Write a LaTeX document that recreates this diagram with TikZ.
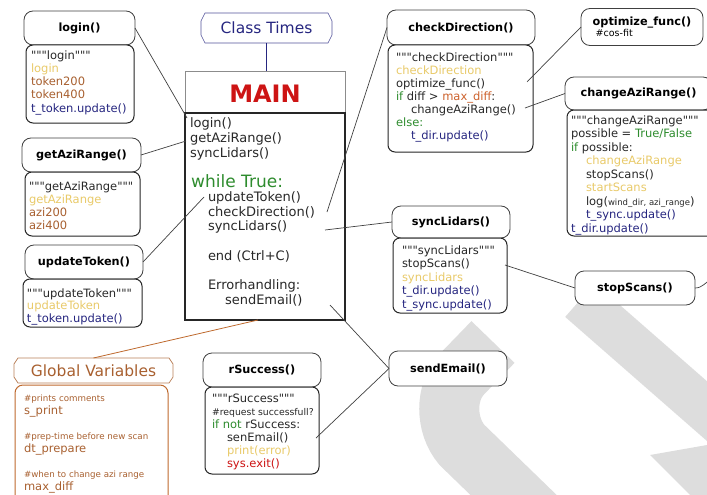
\documentclass[tikz,border=0pt]{standalone}
\usepackage{fontspec}
\setmainfont{DejaVu Sans}[Ligatures=TeXOff]
\usetikzlibrary{calc}
\definecolor{cyel}{RGB}{233,202,105}
\definecolor{cbrown}{RGB}{168,96,48}
\definecolor{cnavy}{RGB}{38,38,128}
\definecolor{cgreen}{RGB}{46,140,46}
\definecolor{corange}{RGB}{205,98,45}
\definecolor{cred}{RGB}{205,20,20}
\definecolor{ctext}{RGB}{40,40,40}
\definecolor{cwm}{RGB}{221,221,221}
\definecolor{cgvline}{RGB}{190,105,45}
\newcommand{\tyel}[1]{\textcolor{cyel}{#1}}
\newcommand{\tbrn}[1]{\textcolor{cbrown}{#1}}
\newcommand{\tnav}[1]{\textcolor{cnavy}{#1}}
\newcommand{\tgrn}[1]{\textcolor{cgreen}{#1}}
\newcommand{\tora}[1]{\textcolor{corange}{#1}}
\newcommand{\tred}[1]{\textcolor{cred}{#1}}
\newcommand{\stt}{\rule{0pt}{9pt}}
\newcommand{\ind}{\hspace*{15pt}}
\tikzset{
  hdr/.style={draw=black!75, line width=0.8pt, rounded corners=9pt, fill=white,
    inner sep=0pt, outer sep=0pt, font=\fontsize{11.3}{13}\selectfont\bfseries, text=black},
  bodyb/.style={draw=black!85, line width=1pt, rounded corners=7pt, fill=white,
    inner sep=0pt, outer sep=0pt, anchor=north west},
  code/.style={anchor=north west, inner sep=0pt, outer sep=0pt, align=left, text=ctext},
  conn/.style={draw=black!75, line width=0.7pt},
  wm/.style={draw=cwm}
}
\begin{document}
\begin{tikzpicture}[x=1pt,y=-1pt]
\useasboundingbox (0,0) rectangle (707,495);
% watermark
\draw[wm, line width=60pt] (493,342) -- (462,374) .. controls (445,392) and (445,425) .. (462,445) -- (560,540);
\draw[wm, line width=45pt] (580,300) -- (740,440);
\fill[cwm] (650,455) -- (707,445) -- (707,495) -- (690,495) -- cycle;

% MAIN
\node[draw=black!45, line width=0.9pt, fill=white, minimum width=160, minimum height=42, inner sep=0pt, outer sep=0pt] (mainH) at (265,92) {};
\node[text=cred, font=\fontsize{24}{28}\selectfont\bfseries, inner sep=0pt] (mainT) at (265,94) {MAIN};
\node[draw=black!85, line width=1.2pt, fill=white, minimum width=160, minimum height=207, inner sep=0pt, outer sep=0pt, anchor=north west] (mainB) at (185,113) {};
\node[code, font=\fontsize{13}{15}\selectfont] (mainA) at (190,117) {\rule{0pt}{10pt}login()\\ getAziRange()\\ syncLidars()};
\node[anchor=base west, inner sep=0pt, text=cgreen, font=\fontsize{17}{20}\selectfont] (mainW) at (191,187) {while True:};
\node[code, font=\fontsize{13}{14.7}\selectfont] (mainL) at (208,191.5) {\rule{0pt}{10pt}updateToken()\\ checkDirection()\\ syncLidars()\\ \\ end (Ctrl+C)\\ \\ Errorhandling:\\ \hspace*{17pt}sendEmail()};

% Class Times
\node[minimum width=131, minimum height=30, inner sep=0pt, outer sep=0pt, text=cnavy, font=\fontsize{15.5}{18}\selectfont] (ct) at (266.5,28) {Class Times};
\draw[draw=cnavy!80, line width=0.6pt] ([xshift=4pt]ct.north west) -- ([xshift=-4pt]ct.north east) -- ([yshift=-8pt]ct.north east) -- ([yshift=8pt]ct.south east) -- ([xshift=-4pt]ct.south east) -- ([xshift=4pt]ct.south west) -- ([yshift=8pt]ct.south west) -- ([yshift=-8pt]ct.north west) -- cycle;
\draw[draw=cnavy, line width=0.8pt] (ct.south) -- (ct.south |- mainH.north);

% login
\node[hdr, minimum width=111, minimum height=34] (login) at (79.5,28) {login()};
\node[bodyb, minimum width=108, minimum height=78] (loginB) at (26,45) {};
\node[code, font=\fontsize{11.5}{13.25}\selectfont] (loginT) at (31,50) {\stt"""login"""\\ \tyel{login}\\ \tbrn{token200}\\ \tbrn{token400}\\ \tnav{t\_token.update()}};

% getAziRange
\node[hdr, minimum width=119, minimum height=34] (azi) at (81.5,155) {getAziRange()};
\node[bodyb, minimum width=115, minimum height=64] (aziB) at (25,172) {};
\node[code, font=\fontsize{11.5}{13.3}\selectfont] (aziT) at (29,181) {\stt"""getAziRange"""\\ \tyel{getAziRange}\\ \tbrn{azi200}\\ \tbrn{azi400}};

% updateToken
\node[hdr, minimum width=118, minimum height=34] (upd) at (84,262) {updateToken()};
\node[bodyb, minimum width=119, minimum height=48] (updB) at (23,279) {};
\node[code, font=\fontsize{11.5}{12.5}\selectfont] (updT) at (27,288) {\stt"""updateToken"""\\ \tyel{updateToken}\\ \tnav{t\_token.update()}};

% checkDirection
\node[hdr, minimum width=148, minimum height=35] (chk) at (461,27.5) {checkDirection()};
\node[bodyb, minimum width=145, minimum height=107] (chkB) at (388,45) {};
\node[code, font=\fontsize{11.5}{13.1}\selectfont] (chkT) at (396,52) {\stt"""checkDirection"""\\ \tyel{checkDirection}\\ optimize\_func()\\ \tgrn{if} diff > \tora{max\_diff}:\\ \ind changeAziRange()\\ \tgrn{else:}\\ \ind\tnav{t\_dir.update()}};

% optimize_func
\node[hdr, minimum width=122, minimum height=37, align=left] (opt) at (642,27) {optimize\_func()\\[-2pt] {\mdseries\fontsize{9.5}{11}\selectfont\ \#cos-fit}};

% changeAziRange
\node[hdr, minimum width=147, minimum height=33] (chg) at (638.5,93.5) {changeAziRange()};
\node[bodyb, minimum width=150, minimum height=126] (chgB) at (567,110) {};
\node[code, font=\fontsize{11.5}{13.5}\selectfont] (chgT) at (571,115) {\stt"""changeAziRange"""\\ possible = \tgrn{True/False}\\ \tgrn{if} possible:\\ \ind\tyel{changeAziRange}\\ \ind stopScans()\\ \ind\tyel{startScans}\\ \ind log({\fontsize{8.5}{10}\selectfont wind\_dir, azi\_range})\\ \ind\tnav{t\_sync.update()}\\ \tnav{t\_dir.update()}};

% syncLidars
\node[hdr, minimum width=118, minimum height=32] (sync) at (451,222) {syncLidars()};
\node[bodyb, minimum width=114, minimum height=75] (syncB) at (393,238) {};
\node[code, font=\fontsize{11.5}{13.5}\selectfont] (syncT) at (402,245) {\stt"""syncLidars"""\\ stopScans()\\ \tyel{syncLidars}\\ \tnav{t\_dir.update()}\\ \tnav{t\_sync.update()}};

% stopScans
\node[hdr, minimum width=120, minimum height=34] (stop) at (635,288) {stopScans()};

% sendEmail
\node[hdr, minimum width=118, minimum height=35] (send) at (448,368.5) {sendEmail()};

% rSuccess
\node[hdr, minimum width=118, minimum height=34] (rs) at (262,370) {rSuccess()};
\node[bodyb, minimum width=114, minimum height=87] (rsB) at (205,387) {};
\node[code, font=\fontsize{11.5}{13}\selectfont] (rsT) at (212,393) {\stt"""rSuccess"""\\ {\fontsize{9.3}{11}\selectfont\#request successfull?}\\ \tgrn{if not} rSuccess:\\ \ind senEmail()\\ \ind\tyel{print(error)}\\ \ind\tred{sys.exit()}};

% Global Variables
\node[minimum width=159, minimum height=25, inner sep=0pt, outer sep=0pt, text=cbrown, font=\fontsize{15.5}{18}\selectfont] (gv) at (93.5,370.5) {Global Variables};
\draw[draw=cbrown!80, line width=0.7pt] ([xshift=4pt]gv.north west) -- ([xshift=-4pt]gv.north east) -- ([yshift=-6pt]gv.north east) -- ([yshift=6pt]gv.south east) -- ([xshift=-4pt]gv.south east) -- ([xshift=4pt]gv.south west) -- ([yshift=6pt]gv.south west) -- ([yshift=-6pt]gv.north west) -- cycle;
\node[draw=cgvline, line width=1pt, rounded corners=8pt, minimum width=153, minimum height=130, inner sep=0pt, outer sep=0pt, anchor=north west] (gvB) at (15,385) {};
\node[code, text=cbrown, font=\fontsize{11.5}{13.5}\selectfont] (gv1) at (24,394) {{\fontsize{8.7}{10}\selectfont\rule{0pt}{7pt}\#prints comments}\\ s\_print};
\node[code, text=cbrown, font=\fontsize{11.5}{13}\selectfont] (gv2) at (24,432) {{\fontsize{8.7}{10}\selectfont\rule{0pt}{7pt}\#prep-time before new scan}\\ dt\_prepare};
\node[code, text=cbrown, font=\fontsize{11.5}{13}\selectfont] (gv3) at (24,470) {{\fontsize{8.7}{10}\selectfont\rule{0pt}{7pt}\#when to change azi range}\\ max\_diff};

% connector end points
\coordinate (m-login) at (187,118);
\coordinate (m-azi) at (186,141);
\coordinate (m-upd) at (204,197);
\coordinate (m-chk) at (327,212);
\coordinate (m-sync) at (325,230);
\coordinate (m-send) at (330,305);
\coordinate (m-gv) at (258,320);
\coordinate (cd-opt) at (527,82);
\coordinate (cd-chg) at (525,108);
\coordinate (sl-stop) at (505,265);
\coordinate (rs-send) at (316,438);
\coordinate (off) at (712,279);

\draw[conn] (login.east) -- (m-login);
\draw[conn] (azi.east) -- (m-azi);
\draw[conn] (upd.east) -- (m-upd);
\draw[conn] (m-chk) -- (chk.west);
\draw[conn] (m-sync) -- (sync.west);
\draw[conn] (m-send) -- (send.west);
\draw[conn] (cd-opt) -- (opt.west);
\draw[conn] (cd-chg) -- (chg.west);
\draw[conn] (sl-stop) -- (stop.west);
\draw[conn] (rs-send) -- (send.west);
\draw[conn] (stop.east) to[out=0,in=205] (off);
\draw[draw=cgvline, line width=0.8pt] (gv.north) -- (m-gv);
\end{tikzpicture}
\end{document}
